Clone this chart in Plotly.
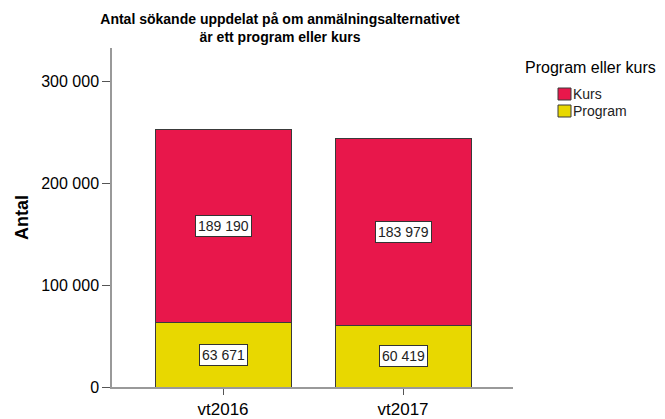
import plotly.graph_objects as go

categories = ["vt2016", "vt2017"]
program = [63671, 60419]
kurs = [189190, 183979]
tick_vals = [0, 100000, 200000, 300000]

RED = "#E8174B"
YEL = "#E8D800"
FONT = "Liberation Sans, Arial, sans-serif"

W, H = 665, 419
L, R, T, B = 112, 152, 48, 32
PW, PH = W - L - R, H - T - B

fig = go.Figure()
fig.add_bar(x=categories, y=program, name="Program", marker=dict(color=YEL, line=dict(color="#3a3a3a", width=1)), width=0.756)
fig.add_bar(x=categories, y=kurs, name="Kurs", marker=dict(color=RED, line=dict(color="#3a3a3a", width=1)), width=0.756)

def fmt(v):
    return f"{v:,}".replace(",", " ")

for c, p, k in zip(categories, program, kurs):
    for yv, v in ((p / 2, p), (p + k / 2, k)):
        fig.add_annotation(x=c, y=yv, text=fmt(v), showarrow=False, bgcolor="white",
                           bordercolor="#333", borderwidth=1, borderpad=2,
                           font=dict(family=FONT, size=14, color="#222"))

def px(x):
    return (x - L) / PW

def py(y):
    return 1 - (y - T) / PH

# legend
fig.add_annotation(xref="paper", yref="paper", x=px(523), y=py(68), xanchor="left", yanchor="middle",
                   text="Program eller kurs", showarrow=False, font=dict(family=FONT, size=16, color="black"))
legend_items = [("Kurs", RED, 94), ("Program", YEL, 111)]
shapes = []
for name, col, yc in legend_items:
    shapes.append(dict(type="rect", xref="paper", yref="paper", x0=px(558), x1=px(571), y0=py(yc + 6), y1=py(yc - 6),
                       fillcolor=col, line=dict(color="#3a3a3a", width=1)))
    fig.add_annotation(xref="paper", yref="paper", x=px(571), y=py(yc), xanchor="left", yanchor="middle",
                       text=name, showarrow=False, font=dict(family=FONT, size=14, color="#222"))

fig.update_layout(
    width=W, height=H,
    margin=dict(l=L, r=R, t=T, b=B),
    paper_bgcolor="white", plot_bgcolor="white",
    barmode="stack",
    separators=". ",
    shapes=shapes,
    title=dict(text="<b>Antal sökande uppdelat på om anmälningsalternativet<br>är ett program eller kurs</b>",
               x=280 / W, xanchor="center", y=1 - 24 / H, yanchor="middle",
               font=dict(family=FONT, size=14, color="black")),
    font=dict(family=FONT, color="black"),
    showlegend=False,
)
fig.update_xaxes(range=[-0.617, 1.611], showline=True, linecolor="#999", linewidth=1.5, automargin=False,
                 ticks="outside", ticklen=6, tickcolor="#555", tickwidth=1,
                 tickfont=dict(family=FONT, size=17, color="black"), showgrid=False)
fig.update_yaxes(range=[0, 333300], tickvals=tick_vals, tickformat=",d", showline=True, linecolor="#999", linewidth=1.5,
                 automargin=False,
                 ticks="outside", ticklen=8, tickcolor="#555", tickwidth=1,
                 tickfont=dict(family=FONT, size=16, color="black"), showgrid=False, zeroline=False,
                 title=dict(text="<b>Antal</b>", font=dict(family=FONT, size=18, color="black"), standoff=8))

fig.write_html("out.html", config={"displayModeBar": False},
               post_script="document.body.style.margin='0';document.body.style.padding='0';")
